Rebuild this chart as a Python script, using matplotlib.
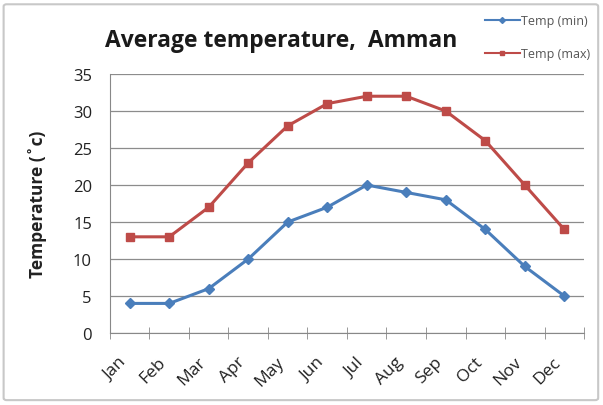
import matplotlib
matplotlib.use("Agg")
import matplotlib.pyplot as plt
import matplotlib.transforms as mtransforms
from matplotlib.patches import FancyBboxPatch
from matplotlib.lines import Line2D

months = ["Jan", "Feb", "Mar", "Apr", "May", "Jun", "Jul", "Aug", "Sep", "Oct", "Nov", "Dec"]
temp_min = [4, 4, 6, 10, 15, 17, 20, 19, 18, 14, 9, 5]
temp_max = [13, 13, 17, 23, 28, 31, 32, 32, 30, 26, 20, 14]
y_ticks = [0, 5, 10, 15, 20, 25, 30, 35]

plt.rcParams['font.family'] = ['Open Sans', 'DejaVu Sans']

fig = plt.figure(figsize=(6.03, 4.06), dpi=100)
fig.patch.set_facecolor('white')
fig.patches.append(FancyBboxPatch((0.006, 0.012), 0.986, 0.975, boxstyle="round,pad=0,rounding_size=0.005",
                                  transform=fig.transFigure, fill=False, edgecolor='#c8c8c8', linewidth=1.5))

ax = fig.add_axes([0.1824, 0.1773, 0.7861, 0.6379])
x = list(range(len(months)))
blue = '#4a7ebb'
red = '#be4b48'
ax.plot(x, temp_min, color=blue, marker='D', markersize=5, linewidth=2.2, label='Temp (min)')
ax.plot(x, temp_max, color=red, marker='s', markersize=6, linewidth=2.2, label='Temp (max)')

ax.set_xlim(-0.5, len(months) - 0.5)
ax.set_ylim(0, 35)
ax.set_yticks(y_ticks)
ax.set_yticklabels([str(v) for v in y_ticks], fontsize=12, color='#222222')
ax.set_xticks(x)
ax.set_xticklabels(months, rotation=45, fontsize=12.5, ha='right', va='top', color='#222222')
offset = mtransforms.ScaledTranslation(3 / 100, 0, fig.dpi_scale_trans)
for lbl in ax.get_xticklabels():
    lbl.set_transform(lbl.get_transform() + offset)
ax.tick_params(axis='x', length=0, pad=15)
ax.set_xticks([i - 0.5 for i in range(len(months) + 1)], minor=True)
ax.tick_params(axis='x', which='minor', length=8, direction='inout', color='#888888')
ax.tick_params(axis='y', length=0, pad=13)
for v in y_ticks:
    ax.axhline(v, color='#8c8c8c', linewidth=0.9, zorder=0)
for s in ['top', 'right']:
    ax.spines[s].set_visible(False)
ax.spines['left'].set_color('#888888')
ax.spines['bottom'].set_color('#888888')
ax.set_ylabel('Temperature (˚c)', fontsize=12.5, fontweight='bold', color='#222222')
ax.yaxis.set_label_coords(-0.133, 0.5)

fig.text(0.174, 0.9, 'Average temperature,  Amman', fontsize=16.5, fontweight='bold', color='#1a1a1a', va='center')

h1 = Line2D([], [], color=blue, marker='D', markersize=3, linewidth=1.5)
h2 = Line2D([], [], color=red, marker='s', markersize=3.5, linewidth=1.5)
fig.legend([h1, h2], ['Temp (min)', 'Temp (max)'], loc='upper left', bbox_to_anchor=(0.785, 0.99),
           frameon=False, fontsize=9, handlelength=2.8, handletextpad=0.1, labelspacing=1.6,
           labelcolor='#555555')

fig.savefig('out.png', dpi=100)
